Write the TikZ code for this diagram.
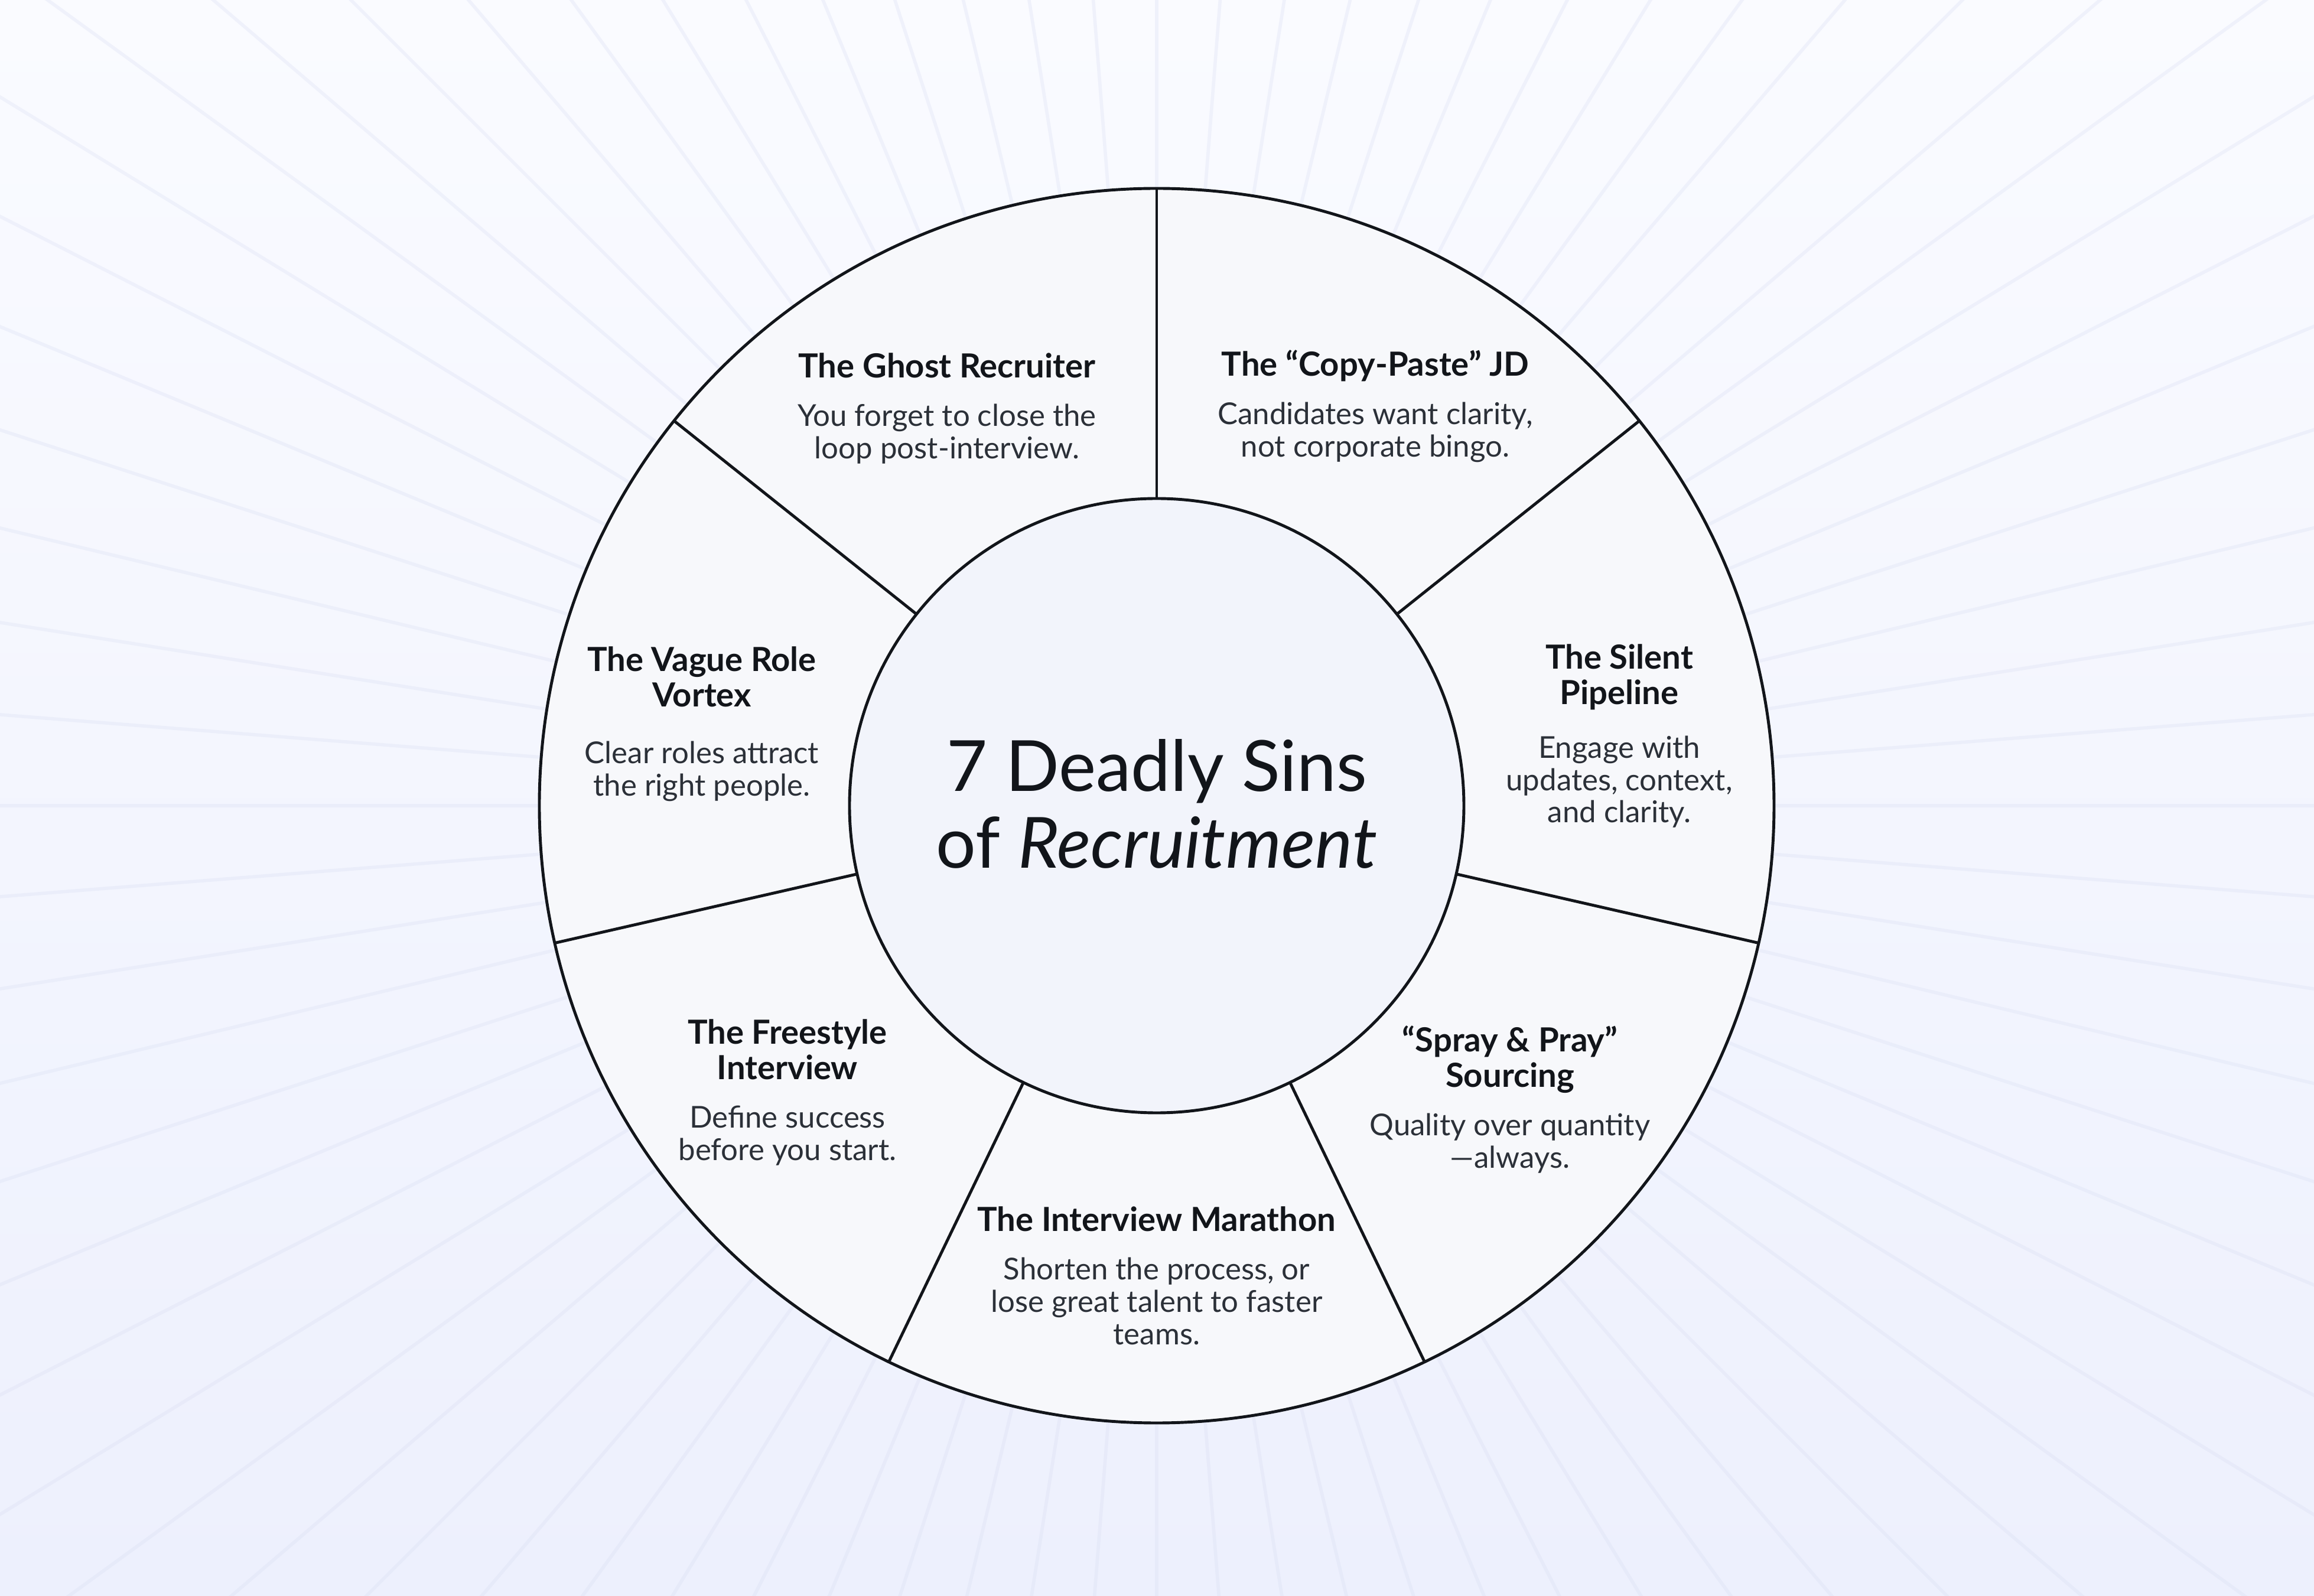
\documentclass[tikz,border=0pt]{standalone}
\usepackage{fontspec}
\setmainfont{Lato}
\usetikzlibrary{positioning}
\definecolor{sinink}{HTML}{12151A}
\definecolor{sinbody}{HTML}{2B3038}
\definecolor{sinfill}{HTML}{F7F8FB}
\definecolor{sincore}{HTML}{F2F4FB}
\definecolor{bgtop}{HTML}{FAFBFF}
\definecolor{bgbottom}{HTML}{EDF0FD}
\definecolor{bgray}{HTML}{D8DDF2}

\begin{document}
\begin{tikzpicture}
  \tikzset{
    sinhead/.style={align=center, inner sep=0pt, text=sinink, font=\fontsize{16}{17}\selectfont\bfseries},
    sinnote/.style={align=center, inner sep=0pt, text=sinbody, font=\fontsize{14.5}{15.6}\selectfont},
    rim/.style={draw=sinink, line width=1.4pt}
  }

  % Background: soft gradient with rays from the centre
  \useasboundingbox (-19.58,-13.38) rectangle (19.59,13.64);
  \shade[top color=bgtop, bottom color=bgbottom] (-19.58,-13.38) rectangle (19.59,13.64);
  \begin{scope}
    \clip (-19.58,-13.38) rectangle (19.59,13.64);
    \foreach \a in {0,4.5,...,355.5}
      \draw[bgray, draw opacity=0.3, line width=1.6pt] (0,0) -- ({90+\a}:30);
  \end{scope}

  % Wheel: outer ring, core and seven dividers
  \fill[sinfill] (0,0) circle (10.45);
  \draw[rim] (0,0) circle (10.45);
  \filldraw[rim, fill=sincore] (0,0) circle (5.2);
  \foreach \k in {0,...,6}
    \draw[rim] ({90-\k*360/7}:5.2) -- ({90-\k*360/7}:10.45);

  \node[align=center, text=sinink, font=\fontsize{34}{37}\selectfont] (core) at (0,0.03)
    {7 Deadly Sins\\ of \textit{Recruitment}};

  % Segment titles
  \node[sinhead] (ghost)     at (-3.55, 7.45) {The Ghost Recruiter};
  \node[sinhead] (copypaste) at (3.70, 7.45)  {The “Copy-Paste” JD};
  \node[sinhead] (silent)    at (7.83, 2.18)  {The Silent\\ Pipeline};
  \node[sinhead] (spray)     at (5.98, -4.30) {“Spray \& Pray”\\ Sourcing};
  \node[sinhead] (marathon)  at (0, -7.0)     {The Interview Marathon};
  \node[sinhead] (freestyle) at (-6.25, -4.13) {The Freestyle\\ Interview};
  \node[sinhead] (vague)     at (-7.70, 2.18) {The Vague Role\\ Vortex};

  % Segment notes
  \node[sinnote, below=0.44cm of ghost.base]     (ghost-note)     {You forget to close the\\ loop post-interview.};
  \node[sinnote, below=0.44cm of copypaste.base] (copypaste-note) {Candidates want clarity,\\ not corporate bingo.};
  \node[sinnote, below=0.53cm of silent.base]    (silent-note)    {Engage with\\ updates, context,\\ and clarity.};
  \node[sinnote, below=0.44cm of spray.base]     (spray-note)     {Quality over quantity\\ —always.};
  \node[sinnote, below=0.44cm of marathon.base]  (marathon-note)  {Shorten the process, or\\ lose great talent to faster\\ teams.};
  \node[sinnote, below=0.44cm of freestyle.base] (freestyle-note) {Define success\\ before you start.};
  \node[sinnote, below=0.58cm of vague.base]     (vague-note)     {Clear roles attract\\ the right people.};
\end{tikzpicture}
\end{document}
